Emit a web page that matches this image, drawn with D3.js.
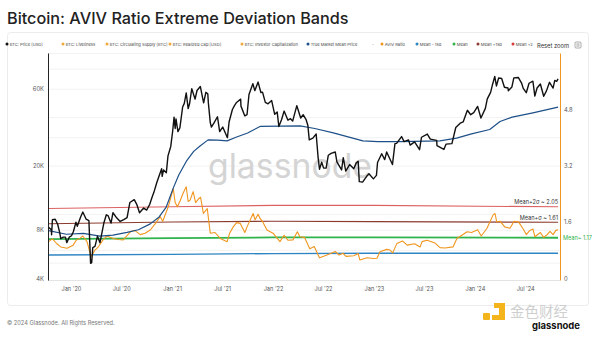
<!DOCTYPE html>
<html><head><meta charset="utf-8">
<script src="https://cdn.jsdelivr.net/npm/d3@7"></script>
<style>
html,body{margin:0;padding:0;background:#fff;}
svg{display:block;font-family:Inter,"Noto Sans",sans-serif;}
</style>
</head><body>
<svg id="chart" width="600" height="337"></svg>
<script>
// ---------------- DATA ----------------
const titleText = "Bitcoin: AVIV Ratio Extreme Deviation Bands";
const footerText = "© 2024 Glassnode. All Rights Reserved.";
const legendLabels = ["BTC: Price [USD]","BTC: Liveliness","BTC: Circulating Supply [BTC]","BTC: Realized Cap [USD]","BTC: Investor Capitalization","True Market Mean Price","-","AVIV Ratio","Mean - 1sd","Mean","Mean +1sd","Mean +2"];
const leftTickValues = [4000, 8000, 20000, 60000];
const leftTickLabels = ["4K","8K","20K","60K"];
const rightTickValues = [0, 1.6, 3.2, 4.8];
const gridValues = [5000, 6000, 8000, 10000, 20000, 30000, 40000, 60000, 80000, 100000];

const btcPrice = [
["2019-10-12",8300],["2019-10-22",8000],["2019-10-23",7450],["2019-10-26",9250],["2019-11-05",9300],["2019-11-14",8650],
["2019-11-22",7600],["2019-11-25",7050],["2019-12-04",7200],["2019-12-12",7200],["2019-12-17",6650],["2019-12-26",7200],
["2020-01-03",7340],["2020-01-10",7800],["2020-01-19",8900],["2020-01-24",8400],["2020-02-05",9600],["2020-02-13",10300],
["2020-02-25",9300],["2020-03-06",9100],["2020-03-12",4950],["2020-03-16",5000],["2020-03-20",6200],["2020-03-28",6300],
["2020-04-06",7300],["2020-04-15",6650],["2020-04-29",8800],["2020-05-08",9900],["2020-05-14",9800],["2020-05-25",8800],
["2020-06-01",10200],["2020-06-15",9450],["2020-06-27",9000],["2020-07-10",9250],["2020-07-22",9500],["2020-08-01",11800],
["2020-08-17",12300],["2020-08-26",11500],["2020-09-05",10200],["2020-09-20",10900],["2020-10-01",10600],["2020-10-12",11500],
["2020-10-21",12800],["2020-10-27",13650],["2020-11-06",15600],["2020-11-17",17700],["2020-11-24",19150],["2020-11-26",17150],
["2020-12-01",18800],["2020-12-11",18050],["2020-12-17",23000],["2020-12-27",26300],["2021-01-03",32800],["2021-01-08",40000],
["2021-01-12",34000],["2021-01-15",39000],["2021-01-22",32500],["2021-01-29",34300],["2021-02-08",46200],["2021-02-14",48700],
["2021-02-21",56500],["2021-02-28",45200],["2021-03-05",48400],["2021-03-13",60000],["2021-03-25",51700],["2021-04-01",58500],
["2021-04-13",62000],["2021-04-18",56200],["2021-04-25",49100],["2021-05-03",57000],["2021-05-10",55800],["2021-05-12",49200],
["2021-05-19",37000],["2021-05-23",34700],["2021-06-01",36700],["2021-06-14",40200],["2021-06-22",32500],["2021-07-03",34700],
["2021-07-20",29800],["2021-07-26",37300],["2021-08-07",44600],["2021-08-14",47000],["2021-08-22",49300],["2021-09-06",51700],
["2021-09-07",46800],["2021-09-21",40700],["2021-09-29",41500],["2021-10-06",55300],["2021-10-20",64500],["2021-10-27",58400],
["2021-11-08",66000],["2021-11-18",56900],["2021-11-24",57200],["2021-12-04",49400],["2021-12-14",48400],["2021-12-27",50700],
["2022-01-07",41600],["2022-01-16",43100],["2022-01-22",35000],["2022-02-01",38700],["2022-02-10",43600],["2022-02-24",38300],
["2022-03-05",39100],["2022-03-13",37800],["2022-03-28",47100],["2022-04-11",39500],["2022-04-20",41400],["2022-05-01",38400],
["2022-05-07",35500],["2022-05-12",28900],["2022-05-25",29600],["2022-06-06",31400],["2022-06-13",22500],["2022-06-18",19000],
["2022-06-26",21000],["2022-07-03",19300],["2022-07-12",19300],["2022-07-20",23200],["2022-07-30",23800],["2022-08-14",24300],
["2022-08-20",21100],["2022-09-06",18800],["2022-09-12",22400],["2022-09-21",18500],["2022-10-05",20300],["2022-10-20",19100],
["2022-10-29",20800],["2022-11-05",21300],["2022-11-09",15900],["2022-11-21",15800],["2022-12-05",17100],["2022-12-14",17800],
["2022-12-30",16550],["2023-01-10",17400],["2023-01-14",20900],["2023-01-29",23700],["2023-02-09",21800],["2023-02-16",24300],
["2023-03-09",20300],["2023-03-18",27400],["2023-03-24",27500],["2023-04-11",30300],["2023-04-20",28200],["2023-05-06",28900],
["2023-05-12",26800],["2023-05-28",28100],["2023-06-15",25100],["2023-06-22",30000],["2023-07-13",31400],["2023-07-24",29200],
["2023-08-16",28700],["2023-08-17",26600],["2023-09-11",25200],["2023-09-19",27200],["2023-10-10",27400],["2023-10-24",34500],
["2023-11-09",36700],["2023-11-20",37400],["2023-12-05",44100],["2023-12-17",41400],["2023-12-28",42600],["2024-01-11",46600],
["2024-01-23",39500],["2024-02-08",45300],["2024-02-15",51900],["2024-02-27",57000],["2024-03-05",63800],["2024-03-13",71500],
["2024-03-19",62400],["2024-03-27",69900],["2024-04-07",69400],["2024-04-17",61300],["2024-04-30",60600],["2024-05-01",58300],
["2024-05-14",61600],["2024-05-21",70100],["2024-06-06",70500],["2024-06-18",65100],["2024-06-24",60300],["2024-07-05",56700],
["2024-07-15",64900],["2024-07-29",66800],["2024-08-05",54000],["2024-08-13",60600],["2024-08-25",64200],["2024-09-06",53900],
["2024-09-16",58200],["2024-09-27",65800],["2024-10-10",60600],["2024-10-16",67600],["2024-10-23",66700],["2024-10-28",69000]
];

const trueMarketMean = [
["2019-10-12",7900],["2019-12-15",7500],["2020-02-15",7600],["2020-04-15",7300],["2020-06-01",7400],["2020-07-22",7700],
["2020-09-01",8000],["2020-10-14",8700],["2020-11-15",9600],["2020-12-10",11000],["2021-01-05",14500],["2021-01-25",17500],
["2021-02-23",21500],["2021-03-20",24500],["2021-04-12",26500],["2021-05-11",28900],["2021-06-15",28800],["2021-07-19",28500],
["2021-08-20",30000],["2021-10-01",31900],["2021-11-15",35000],["2022-01-26",35200],["2022-04-09",35300],["2022-06-01",34000],
["2022-08-07",31900],["2022-11-22",28500],["2023-01-15",28200],["2023-04-05",28200],["2023-08-27",28500],["2023-10-27",29600],
["2023-12-20",31500],["2024-02-24",33500],["2024-04-01",37600],["2024-05-15",40000],["2024-07-29",42500],["2024-10-28",46100]
];

const avivRatio = [
["2019-10-12",1.04],["2019-10-26",1.12],["2019-11-11",0.98],["2019-11-25",0.89],["2019-12-18",0.85],["2020-01-09",0.94],
["2020-01-20",1.08],["2020-02-03",1.14],["2020-02-13",1.20],["2020-02-28",1.04],["2020-03-14",0.61],["2020-03-28",0.80],
["2020-04-10",0.90],["2020-04-26",1.09],["2020-05-10",1.20],["2020-06-02",1.13],["2020-06-20",1.10],["2020-07-08",1.09],
["2020-08-03",1.32],["2020-08-18",1.36],["2020-09-08",1.24],["2020-09-25",1.28],["2020-10-14",1.37],["2020-11-01",1.55],
["2020-11-19",1.75],["2020-11-28",1.62],["2020-12-18",2.03],["2021-01-05",2.55],["2021-01-12",2.15],["2021-01-20",2.03],
["2021-01-30",2.20],["2021-02-10",2.42],["2021-02-21",2.60],["2021-02-28",2.18],["2021-03-07",2.22],["2021-03-18",2.46],
["2021-03-27",2.15],["2021-04-06",2.25],["2021-04-14",2.30],["2021-04-24",1.84],["2021-05-08",1.98],["2021-05-19",1.28],
["2021-06-05",1.30],["2021-06-24",1.13],["2021-07-19",1.04],["2021-07-28",1.28],["2021-08-10",1.46],["2021-08-22",1.58],
["2021-09-04",1.56],["2021-09-21",1.30],["2021-09-29",1.46],["2021-10-21",1.84],["2021-10-28",1.66],["2021-11-08",1.82],
["2021-11-15",1.70],["2021-11-25",1.60],["2021-12-10",1.37],["2022-01-01",1.28],["2022-01-26",1.04],["2022-02-10",1.22],
["2022-02-24",1.08],["2022-03-14",1.09],["2022-03-30",1.32],["2022-04-08",1.18],["2022-04-25",1.16],["2022-05-14",0.84],
["2022-05-30",0.90],["2022-06-18",0.58],["2022-07-01",0.62],["2022-07-15",0.66],["2022-08-14",0.76],["2022-08-28",0.66],
["2022-09-11",0.71],["2022-09-22",0.62],["2022-10-20",0.64],["2022-11-05",0.70],["2022-11-11",0.52],["2022-12-07",0.58],
["2022-12-30",0.56],["2023-01-12",0.57],["2023-01-23",0.75],["2023-02-16",0.82],["2023-02-28",0.80],["2023-03-10",0.72],
["2023-03-25",0.99],["2023-04-14",1.06],["2023-05-01",0.94],["2023-05-28",0.98],["2023-06-17",0.89],["2023-06-24",1.04],
["2023-07-12",1.08],["2023-08-10",1.00],["2023-08-28",0.87],["2023-09-15",0.86],["2023-10-14",0.89],["2023-10-28",1.13],
["2023-11-15",1.22],["2023-12-04",1.32],["2023-12-20",1.30],["2024-01-11",1.38],["2024-01-24",1.20],["2024-02-14",1.42],
["2024-03-07",1.80],["2024-03-14",1.84],["2024-03-20",1.60],["2024-04-01",1.62],["2024-04-18",1.46],["2024-05-07",1.42],
["2024-05-22",1.62],["2024-06-07",1.60],["2024-06-24",1.40],["2024-07-05",1.24],["2024-07-18",1.36],["2024-07-29",1.40],
["2024-08-05",1.18],["2024-08-25",1.30],["2024-09-06",1.16],["2024-09-16",1.22],["2024-09-29",1.33],["2024-10-10",1.24],
["2024-10-20",1.36],["2024-10-28",1.38]
];

const bandDates = ["2019-10-12","2021-01-01","2022-01-01","2023-01-01","2024-10-28"];
const meanMinus1sd = [0.66, 0.68, 0.70, 0.71, 0.71];
const meanValues   = [1.11, 1.14, 1.16, 1.16, 1.15];
const meanPlus1sd  = [1.55, 1.60, 1.62, 1.61, 1.59];
const meanPlus2sd  = [1.98, 2.03, 2.07, 2.07, 2.03];
const bandLabels = ["Mean+2σ ~ 2.05", "Mean+σ ~ 1.61", "Mean~ 1.17"];

// ---------------- STYLE ----------------
const C = {
  price:"#111111", tmmp:"#1d4f88", aviv:"#f0961e", minus1:"#2f84c3", mean:"#2fb34d",
  plus1:"#8c3b2f", plus2:"#dc6262", supply:"#f2a93b", grid:"#efefef", text:"#555"
};
const legendColors = [C.price, C.supply, C.supply, C.supply, C.supply, C.tmmp, null, C.aviv, C.minus1, C.mean, C.plus1, "#d93a3a"];
const legendX = [7, 63, 107, 170, 242, 308, 372, 382, 417, 454, 478, 513, 537];

const parse = d3.utcParse("%Y-%m-%d");
const svg = d3.select("#chart");
svg.append("rect").attr("width",600).attr("height",337).attr("fill","#fff");

function fit(sel, w){ const l = sel.node().getComputedTextLength(); const fs = parseFloat(sel.attr("font-size")); sel.attr("font-size", fs*w/l); return sel; }
function fitMax(sel, w){ const l = sel.node().getComputedTextLength(); if (l > w) fit(sel, w); return sel; }

// Title
fit(svg.append("text").attr("x",7).attr("y",24).attr("font-size",16.5).attr("font-weight",500).attr("fill","#222").text(titleText), 342);

// Panel
svg.append("rect").attr("x",7.5).attr("y",32.5).attr("width",581).attr("height",273).attr("rx",3)
  .attr("fill","none").attr("stroke","#ececec");

// Scales
const x = d3.scaleUtc().domain([parse("2019-10-10"), parse("2024-11-04")]).range([48, 560]);
const yL = d3.scaleLog().domain([3900, 100000]).range([280, 53]);
const yR = d3.scaleLinear().domain([-0.05, 6.4]).range([280, 53]);

// Grid
svg.append("g").selectAll("line").data(gridValues).join("line")
  .attr("x1",48).attr("x2",560).attr("y1",d=>yL(d)+0.5).attr("y2",d=>yL(d)+0.5)
  .attr("stroke",C.grid).attr("stroke-width",0.8);
svg.append("line").attr("x1",48).attr("x2",560).attr("y1",280.5).attr("y2",280.5).attr("stroke","#e4e4e4");

// Watermark
fit(svg.append("text").attr("x",208).attr("y",178).attr("font-size",36).attr("fill","#d4d4d4").attr("font-weight",400).text("glassnode"), 164);

// Lines
function drawLine(data, yScale, color, w){
  svg.append("path").datum(data).attr("fill","none").attr("stroke",color).attr("stroke-width",w)
    .attr("stroke-linejoin","round")
    .attr("d", d3.line().x(d=>x(parse(d[0]))).y(d=>yScale(d[1])));
}
const band = arr => bandDates.map((d,i)=>[d, arr[i]]);
drawLine(band(meanMinus1sd), yR, C.minus1, 1.3);
drawLine(band(meanValues), yR, C.mean, 1.8);
drawLine(band(meanPlus1sd), yR, C.plus1, 1.1);
drawLine(band(meanPlus2sd), yR, C.plus2, 1.1);
drawLine(avivRatio, yR, C.aviv, 1.1);
drawLine(trueMarketMean, yL, C.tmmp, 1.2);
drawLine(btcPrice, yL, C.price, 1.4);

// Band labels
const lastX = x(parse(bandDates[bandDates.length-1]));
svg.append("text").attr("x",lastX).attr("y",yR(meanPlus2sd[4])-2.5).attr("text-anchor","end").attr("font-size",5.6).attr("fill","#333").text(bandLabels[0]);
svg.append("text").attr("x",lastX).attr("y",yR(meanPlus1sd[4])-2.5).attr("text-anchor","end").attr("font-size",5.6).attr("fill","#333").text(bandLabels[1]);
svg.append("text").attr("x",563).attr("y",yR(meanValues[4])+2).attr("font-size",5.6).attr("fill",C.mean).text(bandLabels[2]);

// Axes
const axL = svg.append("g").attr("transform","translate(48,0)")
  .call(d3.axisLeft(yL).tickValues(leftTickValues).tickFormat((d,i)=>leftTickLabels[i]).tickSize(0).tickPadding(4));
axL.select(".domain").attr("stroke","#222").attr("stroke-width",1);
axL.selectAll("text").attr("font-size",5.8).attr("fill",C.text).attr("font-family","Inter");

const axR = svg.append("g").attr("transform","translate(560,0)")
  .call(d3.axisRight(yR).tickValues(rightTickValues).tickFormat(d=>d===0?"0":d3.format(".1f")(d)).tickSize(0).tickPadding(4));
axR.select(".domain").attr("stroke",C.aviv).attr("stroke-width",1);
axR.selectAll("text").attr("font-size",5.8).attr("fill",C.text).attr("font-family","Inter");

const fmtM = d3.utcFormat("%b"), fmtY = d3.utcFormat("%y");
const axB = svg.append("g").attr("transform","translate(0,280)")
  .call(d3.axisBottom(x).ticks(d3.utcMonth.every(6)).tickFormat(d=>fmtM(d)+" '"+fmtY(d)).tickSize(0).tickPadding(7));
axB.select(".domain").remove();
axB.selectAll("text").attr("font-size",5.6).attr("fill",C.text).attr("font-family","Inter");

// Legend
const lg = svg.append("g");
legendLabels.forEach((lab,i)=>{
  const lx = legendX[i];
  const avail = legendX[i+1] - lx - 5;
  if (legendColors[i]) {
    lg.append("circle").attr("cx",lx).attr("cy",44).attr("r",1.5).attr("fill",legendColors[i]);
    fitMax(lg.append("text").attr("x",lx+2.8).attr("y",45.6).attr("font-size",4.1).attr("fill","#444").text(lab), avail);
  } else {
    lg.append("text").attr("x",lx).attr("y",45.6).attr("font-size",4.5).attr("fill","#888").text(lab);
  }
});
// Reset zoom button
lg.append("rect").attr("x",535).attr("y",38).attr("width",32).attr("height",13).attr("fill","#fff");
lg.append("text").attr("x",537).attr("y",48).attr("font-size",5.8).attr("fill","#333").text("Reset zoom");
const ic = lg.append("g").attr("transform","translate(575,42)");
ic.append("rect").attr("width",6).attr("height",6).attr("rx",1).attr("fill","none").attr("stroke","#777").attr("stroke-width",0.6);
[1.8,3,4.2].forEach(yy=>ic.append("line").attr("x1",1.4).attr("x2",4.6).attr("y1",yy).attr("y2",yy).attr("stroke","#777").attr("stroke-width",0.5));

// Footer
fit(svg.append("text").attr("x",7).attr("y",325).attr("font-size",6.5).attr("fill","#777").text(footerText), 108);

// Bottom-right marks
svg.append("rect").attr("x",483).attr("y",313).attr("width",7).attr("height",7).attr("rx",1).attr("fill","#f3b51b");
svg.append("path").attr("d","M494,303 L505,303 L505,320 L492,320 L492,315 L499,315 L499,308 L494,308 Z").attr("fill","#f3b51b");
svg.append("text").attr("x",510).attr("y",317).attr("font-size",14.5).attr("font-family","Noto Sans CJK SC").attr("fill","#cfcfcf").text("金色财经");
fit(svg.append("text").attr("x",532).attr("y",329).attr("font-size",11).attr("font-weight",700).attr("fill","#111").text("glassnode"), 48);
</script>
</body></html>
